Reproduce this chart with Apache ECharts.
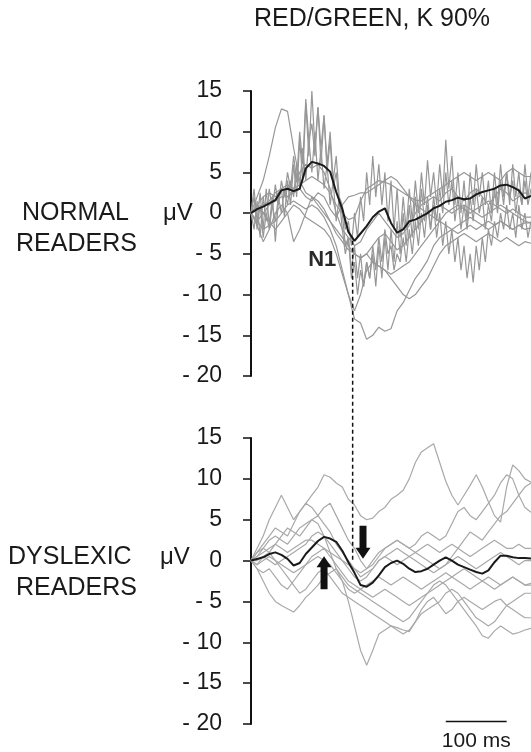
<!DOCTYPE html>
<html><head><meta charset="utf-8">
<script src="https://cdn.jsdelivr.net/npm/echarts@6/dist/echarts.min.js"></script>
<style>html,body{margin:0;padding:0;background:#fff}#c{width:531px;height:752px}</style>
</head><body><div id="c"></div>
<script>
// ---- sample times (ms) ----
const times10 = []; for (let t = 0; t <= 460; t += 10) times10.push(t);
const times5 = []; for (let t = 0; t <= 460; t += 5) times5.push(t);

// ---- y axis ticks ----
const yMin = -20, yMax = 15, yStep = 5;

// ---- NORMAL READERS (top panel) ----
const normalMean = [
  0, 0.5, 0.8, 1.2, 1.6, 2.8, 3.0, 2.7, 3.0, 5.5,
  6.3, 6.1, 5.8, 5.1, 2.6, 0.5, -2.3, -3.4, -2.5, -1.6,
  -0.5, 0.2, 0.6, -1.2, -2.4, -2.0, -1.0, -0.8, -0.4, 0.0,
  0.6, 0.9, 1.4, 1.6, 1.9, 1.7, 1.8, 2.3, 2.6, 2.8,
  3.0, 3.4, 3.5, 3.2, 2.8, 1.8, 2.1];

// noisy subjects, sampled at 5 ms
const normalNoisyA = [
  0, 3, -1, 2.5, -2, 3, -1.5, 2, -3.5, 1.5,
  3, -0.5, 4, 1, 6, 2, 9, 4, 13.5, 7,
  15, 8, 13, 6, 12, 5, 9, 3, 5, 1,
  0, -4, -3, -8, -6, -10, -7, -9, -6, -8,
  -4, -7, -3, -6, -2, -5, -4, -7, -5, -6,
  -3, -6, -2, -5, -1, -4, 0, -3, 1, -2,
  2, -1, 3, 0, 5, 1, 4, -1, 2, -2,
  1, -2, 2, -1, 3, 0, 2, -2, 1, -1,
  3, 0, 4, 1, 5, 2, 4, 0, 3, 1,
  4, 1, 3];
const normalNoisyB = [
  0, -2, 1.5, -3, 2, -1, 3, 0.5, 3.5, 1,
  4, 2, 5, 3, 7, 4, 10, 6, 14, 9,
  11, 7, 13, 8, 12, 6, 10, 4, 7, 2,
  1, -2, -1, -4, 0, -3, 2, -1, 5, 1,
  7, 2, 6, 1, 5, -1, 4, -2, 3, -3,
  2, -2, 3, -1, 4, 0, 5, 1, 6.5, 2,
  5, 1, 6, 2, 9, 3, 7, 1, 5, 0,
  4, -1, 5, 1, 6, 2, 5, 1, 4, 0,
  5, 1, 6, 2, 5, 1, 6, 2, 5, 1,
  6, 2, 5];
const normalNoisyC = [
  0, 2, -2, 1, -3, 0, -2, 1, -1, 2,
  0, 3, 1, 4, 2, 6, 3, 8, 4, 9,
  5, 10, 4, 8, 3, 6, 1, 4, -1, 2,
  -2, -5, -3, -7, -4, -8, -5, -9, -6, -8,
  -5, -9, -4, -8, -3, -7, -2, -6, -1, -5,
  0, -4, 1, -3, 2, -2, 3, -1, 2, -2,
  1, -3, 0, -4, -1, -5, -2, -6, -3, -7,
  -4, -8, -5, -8.5, -4, -7, -3, -6, -2, -4,
  -1, -3, 0, -2, 1, -2, 0, -3, 1, -2,
  0, -3, -1];

// smoother subjects, sampled at 10 ms
const normalS1 = [
  0, 2, 4, 7, 10.5, 12.8, 12.5, 8, 4, 2.5,
  2, 1.5, 0.5, -1, -2.5, -3.5, -4.5, -5, -5.5, -5,
  -4, -3, -2.5, -3.5, -4.5, -4, -3, -2, -1, 0,
  0.5, 1, 0.5, 0, 0.5, 1, 0.5, 0, -0.5, 0,
  0.5, 1, 0.5, 0, -0.5, -1, -1.2];
const normalS2 = [
  0, -1, -2, -1.5, -1, 0, 1, 1.5, 1, 0.5,
  1, 0.5, -0.5, -2, -4, -7, -10, -13, -13.5, -15.5,
  -15, -14, -14.5, -14.2, -12, -11, -9.5, -8, -7, -5.8,
  -4, -3, -2.5, -2, -2.5, -2, -1.5, -2, -1.5, -1,
  -1.5, -1, -1.5, -2, -1.5, -2, -1.8];
const normalS3 = [
  0, 1, 2, 2.5, 2, 3, 3.5, 3, 3.5, 4,
  4.5, 4, 3.5, 2.5, 1, 0, -0.8, -0.5, 1.5, 3,
  3.5, 4, 3.8, 3.5, 3, 2.5, 2, 1.6, 1.5, 2,
  2.5, 3, 3.5, 4, 4.5, 5, 4.5, 4, 4.5, 5,
  4.5, 4, 5, 5.5, 5, 4.5, 4.5];
const normalS4 = [
  0, -1, 0, 1, 1.5, 2, 2, 2.5, 3, 2,
  1.5, 2.5, 2, 0.5, -0.5, 1, 2, 2.2, 2.5, 2.5,
  3, 3.5, 4, 4.5, 4, 3, 2, 1, 0.5, 0,
  -0.5, -1, -1.5, -2, -1.5, -1, -0.5, -1, -1.5, -2,
  -1.5, -1, -1.5, -2, -1.5, -1.2, -1.2];
const normalS5 = [
  0, 1, 0, -1, -2, -1, 0, 1, 0.5, -0.5,
  -1, -1.5, -2, -3, -5, -7.5, -10, -12, -10, -7,
  -6, -6.5, -7, -8, -9, -10, -10.5, -10, -9, -8,
  -6.5, -5, -4, -3.5, -3, -2.5, -3, -3.5, -3, -2.5,
  -3, -3.5, -3, -3.5, -4, -3.5, -3.7];
const normalS6 = [
  0, -1.5, -3.5, -2, 0, 1, 0, -3.5, -2, 0,
  2, 1, 0, -1, -2, -3, -4, -5, -5.5, -5,
  -6, -6.5, -7, -7.5, -7, -6.5, -6, -5, -4, -3,
  -2, -1, 0, 0.5, 1, 0.5, 0, 0.5, 1, 1.5,
  1, 0.5, 0, 0.5, 0, -0.5, -0.5];
const normalS7 = [
  0, 0.5, 1, 1.5, 2.5, 3, 2, 3, 5, 6,
  5.5, 6, 5, 3, 0, -2, -3, -4, -3.5, -2,
  -1, 0, -1, -2, -3, -2.5, -1.5, 0, 1, 1.5,
  2, 1.5, 2.5, 3, 2, 1.5, 2.5, 3, 2, 1,
  2, 3, 2.5, 1.5, 2, 2.5, 2];

// ---- DYSLEXIC READERS (bottom panel) ----
const dyslexicMean = [
  0, 0.2, 0.4, 0.8, 1.0, 0.7, 0.2, -0.6, -0.3, 0.8,
  1.6, 2.4, 2.9, 2.7, 2.3, 1.2, -0.2, -1.5, -3.0, -3.2,
  -2.7, -1.8, -0.8, -0.3, 0, -0.4, -1.0, -1.4, -1.3, -1.0,
  -0.5, 0, 0.4, 0, -0.5, -0.8, -1.1, -1.4, -1.6, -1.2,
  -0.2, 0.6, 0.6, 0.4, 0.3, 0.3, 0.25];
const dyslexicS1 = [
  0, 1.5, 3, 5, 6.5, 8, 6.5, 5, 6, 7,
  8, 9, 10.5, 10.2, 9.5, 9, 7.5, 6.8, 5.5, 5,
  5.2, 6, 6.5, 7.5, 8, 8.6, 10, 12, 13.3, 13.8,
  14.3, 12, 9.7, 8, 6.8, 8, 9.2, 10.5, 9, 7.2,
  5.5, 4.7, 9, 11.7, 11, 10, 9.6];
const dyslexicS2 = [
  0, -0.5, 0.5, 1, 2, 3, 4, 3.5, 3, 4,
  5, 4.5, 3, 1, -1, -2.5, -5, -8, -11, -12.8,
  -11, -9, -8.5, -8, -8.2, -8.5, -8.7, -7.5, -6, -5,
  -4.5, -5.5, -6.5, -6, -5, -4.5, -5, -5.5, -6, -5.5,
  -5, -4.7, -5.5, -6, -6.5, -7, -7];
const dyslexicS3 = [
  0, -1, -2.5, -4, -5, -5.5, -5.9, -6.3, -5.5, -4.5,
  -3.8, -3, -2, -1.5, -1, -2, -3, -3.5, -4, -4.5,
  -5, -5.5, -6, -6.5, -7, -7.5, -7, -6, -5, -4,
  -3, -2.5, -3, -4, -5, -6, -7, -8, -9.2, -9.5,
  -8.6, -8, -8.5, -9, -8.8, -8.5, -8.3];
const dyslexicS4 = [
  0, 1, 2, 3, 4, 3.5, 3, 4.5, 6, 7,
  6.5, 5.5, 6.5, 7, 5.5, 4, 2.5, 1.5, 0, -1,
  -0.5, 0.5, 1.5, 2, 2.5, 2, 1.5, 2, 3, 3.5,
  3, 2.5, 3, 4.5, 6, 6.5, 5.5, 5, 6, 7,
  8, 9.5, 10.5, 10, 8, 6.5, 5.9];
const dyslexicS5 = [
  0, 0.5, 1, 1.5, 2, 1.5, 1, 1.5, 2, 2.5,
  2.5, 2, 1.5, 1, 0.5, 0, -0.5, -1, -1.5, -1,
  0, 1, 1.5, 2, 2.5, 2, 1.5, 1, 1.5, 2,
  1.5, 1, 1.5, 2, 1.5, 1, 0.5, 1, 1.5, 2,
  2.5, 2, 1.5, 1.5, 2, 1.5, 1.5];
const dyslexicS6 = [
  0, -0.5, 0, 0.5, 0, -0.5, -1, -1.5, -1, -0.5,
  0, 0.5, 0, -0.5, -1.5, -2.5, -3.5, -4, -3.5, -3,
  -2.5, -2, -2.5, -3, -2.5, -2, -2.5, -3, -3.5, -3,
  -2.5, -2, -1.5, -2, -2.5, -3, -3.5, -3, -2.5, -2,
  -2.5, -3, -2.5, -2, -2.5, -3, -2.8];
const dyslexicS7 = [
  0, 1, 1.5, 1, 0, -1, -2, -3, -4, -3.5,
  -2.5, -1.5, -1, -2, -3, -4, -4.5, -5, -5.5, -6,
  -6.5, -7, -7.5, -8, -8.5, -9, -8.5, -7.5, -6.5, -6,
  -5.5, -5, -4, -3.5, -4, -5, -6, -7, -7.5, -8,
  -7.5, -6.5, -5.5, -5, -4.5, -4, -4];
const dyslexicS8 = [
  0, 0.5, 1.5, 2.5, 3, 2.5, 2, 3, 4, 4.5,
  5, 5.5, 4.5, 3.5, 2, 1, 0, -1, -2, -1.5,
  -1, 0, 0.5, 0, -0.5, 0, 0.5, 1, 0.5, 0,
  -0.5, -1, -0.5, 0.5, 1.5, 2.5, 3.5, 3, 2.5, 3.5,
  4.5, 5.5, 6, 7, 8, 9, 9.5];
const dyslexicS9 = [
  0, -1, -1.5, -1, -2, -3, -3.5, -2.5, -1.5, -0.5,
  0.5, 1, 1.5, 0.5, -0.5, -1.5, -2.5, -3, -3.5, -4,
  -4.5, -4, -3.5, -4, -4.5, -5, -5.5, -5, -4.5, -4,
  -3.5, -3, -2.5, -2, -1.5, -1, -1.5, -2, -2.5, -3,
  -3.5, -3, -2.5, -2, -2.5, -3, -3];
const dyslexicS10 = [
  0, 0, 0.5, 0, -0.5, 0, 0.5, 1, 1.5, 2,
  3, 3.5, 3, 2, 1, 0, -1, -2, -2.5, -2,
  -1, 0, 0.5, 1, 1.5, 1, 0.5, 0, -0.5, -1,
  -1.5, -1, -0.5, 0, 0.5, 0, -0.5, -1, -0.5, 0,
  0.5, 1, 0.5, 0, -0.5, 0, 0];

// ---- annotations (data units) ----
const n1Time = 167, n1TopValue = -3.4, n1BottomValue = 0;
const n1Label = { text: 'N1', t: 117, v: -5.8 };
const downArrow = { t: 184, v: 2.25 };
const upArrow = { t: 120, v: -1.5 };
const scaleBar = { from: 320, to: 420, v: -19.7, label: '100 ms' };

// ---- labels ----
const titleText = 'RED/GREEN, K 90%';
const unitText = 'μV';
const groupTop = ['NORMAL', 'READERS'];
const groupBottom = ['DYSLEXIC', 'READERS'];

const FONT = '"Liberation Sans", Arial, Helvetica, sans-serif';
const zip = (ts, vs) => vs.map((v, i) => [ts[i], v]);

function line(ts, vs, idx, color, width, z) {
  return { type: 'line', xAxisIndex: idx, yAxisIndex: idx, data: zip(ts, vs),
    symbol: 'none', silent: true, animation: false, z: z,
    lineStyle: { color: color, width: width } };
}

const greyTop = '#979797', greyBot = '#a9a9a9';
const series = [
  line(times10, normalS1, 0, greyTop, 1.2, 2),
  line(times10, normalS2, 0, greyTop, 1.2, 2),
  line(times10, normalS3, 0, greyTop, 1.2, 2),
  line(times10, normalS4, 0, greyTop, 1.2, 2),
  line(times10, normalS5, 0, greyTop, 1.2, 2),
  line(times10, normalS6, 0, greyTop, 1.2, 2),
  line(times10, normalS7, 0, greyTop, 1.2, 2),
  line(times5, normalNoisyA, 0, greyTop, 1.2, 2),
  line(times5, normalNoisyB, 0, greyTop, 1.2, 2),
  line(times5, normalNoisyC, 0, greyTop, 1.2, 2),
  line(times10, normalMean, 0, '#1a1a1a', 2, 5),
  line(times10, dyslexicS1, 1, greyBot, 1.2, 2),
  line(times10, dyslexicS2, 1, greyBot, 1.2, 2),
  line(times10, dyslexicS3, 1, greyBot, 1.2, 2),
  line(times10, dyslexicS4, 1, greyBot, 1.2, 2),
  line(times10, dyslexicS5, 1, greyBot, 1.2, 2),
  line(times10, dyslexicS6, 1, greyBot, 1.2, 2),
  line(times10, dyslexicS7, 1, greyBot, 1.2, 2),
  line(times10, dyslexicS8, 1, greyBot, 1.2, 2),
  line(times10, dyslexicS9, 1, greyBot, 1.2, 2),
  line(times10, dyslexicS10, 1, greyBot, 1.2, 2),
  line(times10, dyslexicMean, 1, '#1a1a1a', 2, 5),
  { type: 'line', xAxisIndex: 1, yAxisIndex: 1, symbol: 'none', silent: true, animation: false,
    data: [[scaleBar.from, scaleBar.v], [scaleBar.to, scaleBar.v]], lineStyle: { color: '#111', width: 1.5 } },
  { type: 'scatter', xAxisIndex: 1, yAxisIndex: 1, silent: true, animation: false, z: 8,
    symbol: 'path://M4,0L11,0L11,22L15,22L7.5,33L0,22L4,22Z', symbolSize: [15, 33],
    itemStyle: { color: '#111', opacity: 1 }, data: [[downArrow.t, downArrow.v]] },
  { type: 'scatter', xAxisIndex: 1, yAxisIndex: 1, silent: true, animation: false, z: 8,
    symbol: 'path://M7.5,0L15,11L11,11L11,33L4,33L4,11L0,11Z', symbolSize: [15, 33],
    itemStyle: { color: '#111', opacity: 1 }, data: [[upArrow.t, upArrow.v]] }
];

function yAxis(gi) {
  return { type: 'value', gridIndex: gi, min: yMin, max: yMax, interval: yStep,
    axisLine: { show: true, lineStyle: { color: '#111', width: 2 } },
    axisTick: { show: true, length: 8, lineStyle: { color: '#111', width: 1.5 } },
    splitLine: { show: false },
    axisLabel: { margin: 29, color: '#1a1a1a', fontSize: 23, fontFamily: FONT,
      formatter: v => v < 0 ? '- ' + (-v) : String(v) } };
}
function xAxis(gi) {
  return { type: 'value', gridIndex: gi, min: 0, max: 460, show: false };
}

const chart = echarts.init(document.getElementById('c'), null, { renderer: 'canvas' });
chart.setOption({
  animation: false,
  backgroundColor: '#fff',
  grid: [
    { left: 251, top: 91, width: 280, height: 285 },
    { left: 251, top: 438, width: 280, height: 286 }
  ],
  xAxis: [xAxis(0), xAxis(1)],
  yAxis: [yAxis(0), yAxis(1)],
  series: series
});

const p0 = (pt) => chart.convertToPixel({ xAxisIndex: 0, yAxisIndex: 0 }, pt);
const p1 = (pt) => chart.convertToPixel({ xAxisIndex: 1, yAxisIndex: 1 }, pt);
const dTop = p0([n1Time, n1TopValue]);
const dBot = p1([n1Time, n1BottomValue]);
const n1P = p0([n1Label.t, n1Label.v]);
const sbP = p1([(scaleBar.from + scaleBar.to) / 2, yMin]);
const zeroTop = p0([0, 0]), zeroBot = p1([0, 0]);

const txt = (x, y, s, size, extra) => Object.assign({ type: 'text', x: x, y: y, silent: true,
  style: Object.assign({ text: s, fill: '#1a1a1a', fontSize: size, fontFamily: FONT,
    textAlign: 'left', textVerticalAlign: 'middle' }, extra || {}) });

chart.setOption({
  graphic: [
    { type: 'line', silent: true, z: 10,
      shape: { x1: dTop[0], y1: dTop[1], x2: dBot[0], y2: dBot[1] },
      style: { stroke: '#111', lineWidth: 1.5, lineDash: [4, 3] } },
    txt(372, 19, titleText, 25, { textAlign: 'center' }),
    txt(22, zeroTop[1], groupTop[0], 25),
    txt(16, zeroTop[1] + 31, groupTop[1], 25),
    txt(163, zeroTop[1], unitText, 24),
    txt(8, zeroBot[1] - 3, groupBottom[0], 25),
    txt(16, zeroBot[1] + 28, groupBottom[1], 25),
    txt(160, zeroBot[1] - 3, unitText, 24),
    txt(n1P[0], n1P[1], n1Label.text, 22, { textAlign: 'center', fontWeight: 'bold', fill: '#2a2a2a' }),
    txt(sbP[0], sbP[1] + 17, scaleBar.label, 21, { textAlign: 'center' })
  ]
});
</script></body></html>
